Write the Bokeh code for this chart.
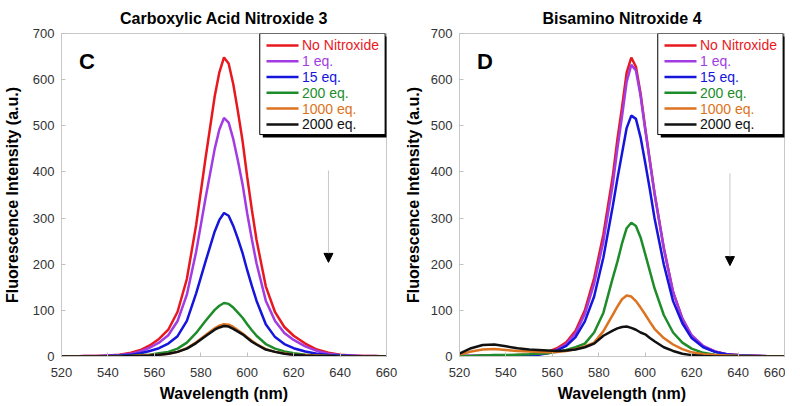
from bokeh.plotting import figure
from bokeh.layouts import row
from bokeh.models import Range1d, Label, Arrow, NormalHead, BoxAnnotation, FixedTicker, ColumnDataSource
from bokeh.embed import file_html
from bokeh.resources import INLINE
from bokeh.core.properties import value

# ---------------- data ----------------
wavelength = [520, 525, 530, 535, 540, 545, 550, 554, 558, 562, 566, 570, 574, 578, 582, 586,
              588, 590, 592, 594, 596, 598, 600, 602, 604, 608, 612, 616, 620, 625, 630, 635,
              640, 645, 650, 655, 660]

series_labels = ["No Nitroxide", "1 eq.", "15 eq.", "200 eq.", "1000 eq.", "2000 eq."]
series_colors = ["#e8191e", "#a23be2", "#1515dc", "#1e8c2a", "#dc7320", "#111111"]

# Panel C: Carboxylic Acid Nitroxide 3
acid_none = [0, 0, 1, 1, 2, 4, 8, 14, 24, 38, 58, 97, 168, 285, 428, 564, 616, 648, 635, 590, 531, 467,
             389, 318, 253, 152, 96, 64, 45, 28, 15, 8, 4, 2, 1, 1, 0]
acid_1eq = [0, 0, 1, 1, 2, 3, 6, 11, 19, 30, 46, 77, 134, 227, 342, 450, 492, 517, 507, 471, 424, 373,
            310, 254, 202, 121, 77, 51, 36, 22, 12, 6, 3, 2, 1, 1, 0]
acid_15eq = [0, 0, 0, 0, 1, 2, 4, 7, 12, 18, 28, 44, 77, 137, 205, 271, 296, 311, 305, 283, 255, 224,
             187, 153, 121, 70, 42, 27, 18, 11, 6, 3, 2, 1, 0, 0, 0]
acid_200eq = [0, 0, 0, 0, 0, 1, 1, 3, 4, 7, 10, 17, 30, 51, 77, 101, 110, 116, 114, 106, 95, 84,
              70, 57, 45, 27, 17, 11, 7, 4, 2, 1, 1, 0, 0, 0, 0]
acid_1000eq = [0, 0, 0, 0, 0, 0, 1, 2, 3, 4, 6, 10, 18, 31, 46, 61, 67, 70, 69, 64, 57, 50,
               42, 34, 27, 16, 10, 7, 4, 3, 2, 1, 0, 0, 0, 0, 0]
acid_2000eq = [0, 0, 0, 0, 0, 0, 1, 1, 2, 4, 6, 10, 17, 29, 44, 58, 63, 66, 65, 60, 54, 48,
               40, 32, 26, 15, 10, 6, 4, 2, 1, 1, 0, 0, 0, 0, 0]

# Panel D: Bisamino Nitroxide 4
bis_none = [1, 1, 2, 2, 2, 3, 4, 6, 10, 18, 31, 56, 100, 170, 265, 390, 470, 540, 615, 648, 628, 570,
            495, 425, 355, 235, 140, 82, 45, 22, 11, 5, 3, 2, 1, 0, 0]
bis_1eq = [1, 1, 1, 2, 2, 2, 3, 5, 8, 15, 27, 50, 92, 158, 250, 372, 450, 520, 595, 632, 620, 565,
           492, 422, 353, 235, 140, 82, 46, 23, 11, 5, 3, 2, 1, 0, 0]
bis_15eq = [1, 1, 1, 1, 1, 2, 3, 4, 7, 13, 23, 42, 76, 130, 215, 325, 385, 440, 495, 522, 515, 475,
            420, 362, 300, 200, 120, 72, 40, 20, 10, 5, 2, 1, 1, 0, 0]
bis_200eq = [1, 1, 2, 3, 3, 4, 5, 6, 7, 10, 14, 20, 28, 52, 95, 170, 205, 245, 278, 290, 283, 258,
             222, 185, 148, 90, 52, 30, 17, 8, 4, 2, 1, 1, 0, 0, 0]
bis_1000eq = [4, 11, 15, 16, 14, 12, 11, 10, 9, 10, 12, 16, 22, 30, 55, 90, 108, 124, 132, 130, 120, 106,
              91, 75, 60, 40, 26, 16, 9, 5, 3, 2, 1, 0, 0, 0, 0]
bis_2000eq = [6, 18, 25, 26, 22, 18, 15, 14, 13, 12, 13, 15, 20, 28, 45, 56, 61, 64, 65, 62, 58, 52,
              48, 40, 33, 20, 12, 6, 3, 1, 0, 0, 0, 0, 0, 0, 0]

x_ticks = [520, 540, 560, 580, 600, 620, 640, 660]
y_ticks = [0, 100, 200, 300, 400, 500, 600, 700]

FONT = "Liberation Sans"


def make_panel(title, letter, series, border_left, border_right, ylabel_standoff,
               arrow_x, arrow_top, arrow_bottom):
    p = figure(frame_width=325, frame_height=323, output_backend="svg", toolbar_location=None,
               x_range=Range1d(520, 660), y_range=Range1d(0, 700),
               min_border_left=border_left, min_border_right=border_right,
               min_border_top=10, min_border_bottom=10, title=title)
    p.title.text_font = FONT
    p.title.text_font_size = "16px"
    p.title.text_font_style = "bold"
    p.title.align = "center"
    p.title.text_color = "#000000"
    p.title.standoff = 14
    p.grid.visible = False
    p.outline_line_color = "#c8c8c8"
    p.background_fill_color = "white"
    p.border_fill_color = "white"

    for ax in (p.xaxis[0], p.yaxis[0]):
        ax.axis_line_color = "#c8c8c8"
        ax.major_tick_line_color = "#c0c0c0"
        ax.major_tick_in = 4
        ax.major_tick_out = 0
        ax.minor_tick_line_color = None
        ax.major_label_text_font = FONT
        ax.major_label_text_font_size = "13px"
        ax.major_label_text_color = "#333333"
        ax.axis_label_text_font = FONT
        ax.axis_label_text_font_size = "16px"
        ax.axis_label_text_font_style = "bold"
        ax.axis_label_text_color = "#000000"
    p.xaxis.ticker = FixedTicker(ticks=x_ticks)
    p.yaxis.ticker = FixedTicker(ticks=y_ticks)
    p.xaxis.axis_label = "Wavelength (nm)"
    p.yaxis.axis_label = "Fluorescence Intensity (a.u.)"
    p.xaxis.major_label_standoff = 11
    p.xaxis.axis_label_standoff = 5
    p.yaxis.major_label_standoff = 7
    p.yaxis.axis_label_standoff = ylabel_standoff

    for ys, color in zip(series, series_colors):
        p.line(wavelength, ys, line_color=color, line_width=2.5)

    # legend (box with shadow, colored labels)
    lg_left, lg_right, lg_top, lg_bottom = 605.4, 659.4, 700, 481
    p.add_layout(BoxAnnotation(left=lg_left + 1.3, right=lg_right + 1.3, top=lg_top - 6.5,
                               bottom=lg_bottom - 6.5, fill_color="black", fill_alpha=1,
                               line_alpha=0, level="underlay"))
    p.add_layout(BoxAnnotation(left=lg_left, right=lg_right, top=lg_top, bottom=lg_bottom,
                               fill_color="white", fill_alpha=1, line_color="black",
                               line_width=1, line_alpha=1, level="underlay"))
    row_y = [674 - i * 34.2 for i in range(len(series_labels))]
    src = ColumnDataSource(dict(x0=[608.3] * 6, x1=[622.1] * 6, y=row_y, tx=[623.6] * 6,
                                label=series_labels, color=series_colors))
    p.segment(x0="x0", x1="x1", y0="y", y1="y", line_color="color", line_width=2.5, source=src)
    p.text(x="tx", y="y", text="label", text_color="color", text_font=value(FONT),
           text_font_size="14px", text_baseline="middle", text_align="left", source=src)

    p.add_layout(Label(x=527.5, y=666, text=letter, text_font=FONT, text_font_size="22px",
                       text_font_style="bold", text_baseline="top", text_color="black"))
    p.add_layout(Arrow(x_start=arrow_x, y_start=arrow_top, x_end=arrow_x, y_end=arrow_bottom,
                       line_color="#c8c8c8", line_width=1,
                       end=NormalHead(size=9, fill_color="black", line_color="black")))
    return p


p1 = make_panel("Carboxylic Acid Nitroxide 3", "C",
                [acid_none, acid_1eq, acid_15eq, acid_200eq, acid_1000eq, acid_2000eq],
                52, 15, 9, 635, 403, 204)
p2 = make_panel("Bisamino Nitroxide 4", "D",
                [bis_none, bis_1eq, bis_15eq, bis_200eq, bis_1000eq, bis_2000eq],
                58, 1, 6, 636.5, 397, 197)

layout = row(p1, p2)
open("out.html", "w").write(file_html(layout, INLINE))
